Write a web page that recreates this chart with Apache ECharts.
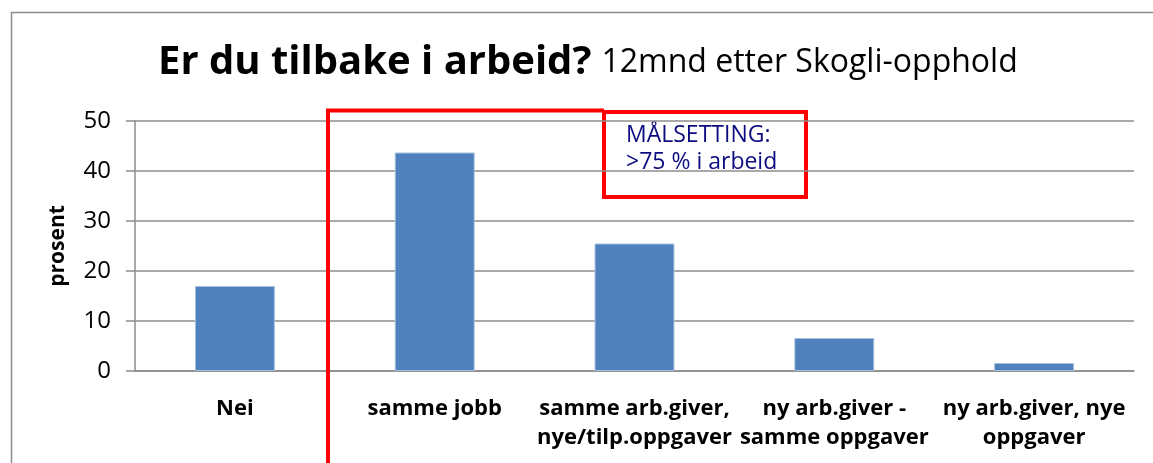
<!DOCTYPE html>
<html>
<head>
<meta charset="utf-8">
<script src="https://cdn.jsdelivr.net/npm/echarts@6/dist/echarts.min.js"></script>
<style>
  html, body { margin: 0; padding: 0; background: #fff; }
  #chart { width: 1153px; height: 463px; }
</style>
</head>
<body>
<div id="chart"></div>
<script>
const categories = [
    'Nei',
    'samme jobb',
    'samme arb.giver,\nnye/tilp.oppgaver',
    'ny arb.giver -\nsamme oppgaver',
    'ny arb.giver, nye\noppgaver',
];
const prosent = [17, 43.7, 25.5, 6.6, 1.6];
const yTicks = [0, 10, 20, 30, 40, 50];

const chart = echarts.init(document.getElementById('chart'), null, { renderer: 'canvas' });

const gridGray = '#8c8c8c';
const fontFam = '"Open Sans", Lato, sans-serif';

const option = {
    animation: false,
    backgroundColor: '#fff',
    title: {
        left: 153,
        top: 34,
        text: '{a|Er du tilbake i arbeid?}  {b|12mnd etter Skogli-opphold}',
        textStyle: {
            rich: {
                a: { fontFamily: fontFam, fontWeight: 'bold', fontSize: 40, color: '#000', lineHeight: 48 },
                b: { fontFamily: fontFam, fontWeight: 'normal', fontSize: 32, color: '#000', lineHeight: 48 },
            },
        },
    },
    grid: { left: 135, right: 19, top: 121, bottom: 92 },
    xAxis: {
        type: 'category',
        data: categories,
        axisTick: { show: false },
        axisLine: { lineStyle: { color: gridGray, width: 1.5 } },
        axisLabel: {
            interval: 0,
            margin: 23,
            color: '#000',
            fontFamily: fontFam,
            fontWeight: 'bold',
            fontSize: 22,
            lineHeight: 29,
        },
    },
    yAxis: {
        type: 'value',
        min: 0,
        max: 50,
        interval: 10,
        name: 'prosent',
        nameLocation: 'middle',
        nameGap: 66,
        nameTextStyle: { fontFamily: fontFam, fontWeight: 'bold', fontSize: 21, color: '#000' },
        axisLine: { show: true, lineStyle: { color: gridGray, width: 1.5 } },
        axisTick: { show: true, length: 9, lineStyle: { color: gridGray, width: 1.5 } },
        axisLabel: {
            margin: 24,
            color: '#000',
            fontFamily: fontFam,
            fontSize: 24,
            formatter: (v) => (yTicks.includes(v) ? String(v) : ''),
        },
        splitLine: { lineStyle: { color: gridGray, width: 1.5 } },
    },
    series: [
        {
            type: 'bar',
            data: prosent,
            barWidth: '40%',
            itemStyle: { color: '#4f81bd', borderColor: '#a7c0e0', borderWidth: 1 },
        },
    ],
    graphic: [
        {
            type: 'rect',
            left: 9, top: 10,
            shape: { width: 1160, height: 470 },
            style: { fill: 'none', stroke: '#8c8c8c', lineWidth: 1.5 },
            silent: true,
        },
        {
            type: 'polyline',
            shape: { points: [[328, 463], [328, 110.5], [604, 110.5]] },
            style: { fill: 'none', stroke: '#ff0000', lineWidth: 4 },
            z: 10,
        },
        {
            type: 'group',
            left: 602, top: 110,
            z: 10,
            children: [
                {
                    type: 'rect',
                    shape: { x: 2, y: 0, width: 202, height: 85 },
                    style: { fill: '#fff', stroke: '#ff0000', lineWidth: 4 },
                },
                {
                    type: 'text',
                    x: 24, y: 10,
                    style: {
                        text: 'MÅLSETTING:\n>75 % i arbeid',
                        fill: '#0c0c80',
                        font: '23px ' + fontFam,
                        lineHeight: 27,
                    },
                },
            ],
        },
    ],
};

chart.setOption(option);
</script>
</body>
</html>
